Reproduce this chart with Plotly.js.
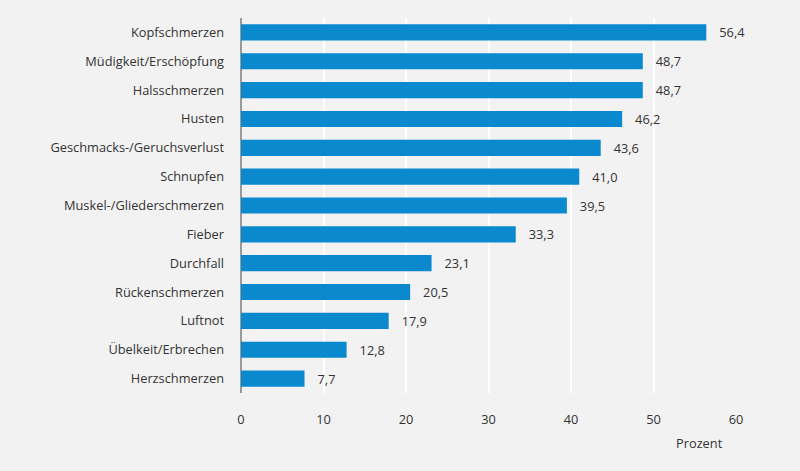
<!DOCTYPE html>
<html><head><meta charset="utf-8">
<script src="https://cdn.plot.ly/plotly-3.0.1.min.js"></script>
<style>html,body{margin:0;padding:0;background:#f2f2f2;}#chart{width:800px;height:471px;}</style>
</head><body><div id="chart"></div>
<script>
const categories = ["Kopfschmerzen","Müdigkeit/Erschöpfung","Halsschmerzen","Husten","Geschmacks-/Geruchsverlust","Schnupfen","Muskel-/Gliederschmerzen","Fieber","Durchfall","Rückenschmerzen","Luftnot","Übelkeit/Erbrechen","Herzschmerzen"];
const values = [56.4,48.7,48.7,46.2,43.6,41.0,39.5,33.3,23.1,20.5,17.9,12.8,7.7];
const xTicks = [0,10,20,30,40,50,60];
const axisLabel = "Prozent";

const font = {family: "Open Sans, Noto Sans, sans-serif", size: 12.8, color: "#333"};
Plotly.newPlot("chart", [{
  type: "bar", orientation: "h",
  x: values, y: categories,
  marker: {color: "#0a89cf"},
  width: 0.56,
  text: values,
  texttemplate: "\u00a0\u00a0\u00a0%{x:.1f}",
  textposition: "outside",
  constraintext: "none",
  cliponaxis: false,
  textfont: font,
  outsidetextfont: font,
  hoverinfo: "none"
}], {
  width: 800, height: 471,
  paper_bgcolor: "#f2f2f2", plot_bgcolor: "#f2f2f2",
  separators: ",.",
  font: font,
  margin: {l: 241, r: 64, t: 17.5, b: 77.5},
  showlegend: false,
  bargap: 0.44,
  xaxis: {range: [0, 60], tickvals: xTicks, ticktext: xTicks.map(String), showgrid: true, gridcolor: "#ffffff", gridwidth: 2,
          zeroline: true, zerolinecolor: "#9a9a9a", zerolinewidth: 1.5, ticks: "", ticklabelstandoff: 17, tickfont: font, fixedrange: true},
  yaxis: {autorange: "reversed", categoryorder: "array", categoryarray: categories, showgrid: false, zeroline: false,
          ticks: "", ticklabelstandoff: 16, tickfont: font, fixedrange: true},
  annotations: [{text: axisLabel, xref: "x", yref: "paper", x: 55.6, y: -0.132, showarrow: false, font: font, xanchor: "center", yanchor: "middle"}]
}, {staticPlot: true});
</script></body></html>
